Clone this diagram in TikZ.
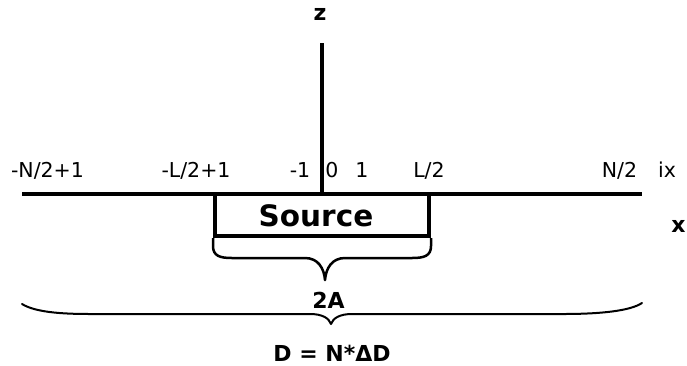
\documentclass[tikz,border=0pt]{standalone}
\usepackage{fontspec}
\setmainfont{DejaVu Sans}
\usetikzlibrary{calc}
\begin{document}
\begin{tikzpicture}[x=1bp,y=-1bp,
  tick/.style={font=\fontsize{20.5bp}{22bp}\selectfont, anchor=base, inner sep=0pt},
  bold/.style={font=\bfseries\fontsize{22bp}{24bp}\selectfont, anchor=base, inner sep=0pt},
  axis/.style={line width=4.5bp},
  brace/.style={line width=2.5bp, line join=round},
  bigbrace/.style={line width=2bp, line join=round, line cap=round}]
\useasboundingbox (0,0) rectangle (687,365);
% axes
\coordinate (xl) at (22,194);
\coordinate (xr) at (642,194);
\coordinate (zb) at (322,194);
\coordinate (zt) at (322,43);
\draw[axis] (xl) -- (xr);
\draw[line width=4bp] (zb) -- (zt);
% source box
\node[draw, line width=4bp, minimum width=214bp, minimum height=42bp, inner sep=0pt] (box) at (322,215) {};
\node[font=\bfseries\fontsize{29.5bp}{31bp}\selectfont, anchor=base, inner sep=0pt] (src) at (316,226) {Source};
% labels
\node[bold] (zlab) at (320,20) {z};
\node[bold] (xlab) at (678.5,232) {x};
\node[tick] (t1) at (47.5,177) {-N/2+1};
\node[tick] (t2) at (196,177) {-L/2+1};
\node[tick] (t3) at (300,177) {-1};
\node[tick] (t4) at (332,177) {0};
\node[tick] (t5) at (362,177) {1};
\node[tick] (t6) at (429,177) {L/2};
\node[tick] (t7) at (619.5,177) {N/2};
\node[tick] (t8) at (667,177) {ix};
% small brace
\coordinate (sbl) at (box.south west);
\coordinate (sbr) at (box.south east);
\coordinate (sbt) at (325,280);
\draw[brace] (sbl) -- ++(0,8) .. controls +(0,10) and (220,258) .. (232,258) -- (305,258)
  .. controls (318,258) and (324,268) .. (sbt)
  .. controls (326,268) and (332,258) .. (345,258) -- (412,258)
  .. controls (424,258) and ($(sbr)+(0,18)$) .. ($(sbr)+(0,8)$) -- (sbr);
\node[bold] (twoA) at (328.5,308) {2A};
% big brace
\coordinate (bbl) at (22,304);
\coordinate (bbr) at (642,303);
\coordinate (bbt) at (331,324);
\draw[bigbrace] (bbl) .. controls (35,312) and (60,314) .. (90,314) -- (310,314)
  .. controls (322,314) and (329,318) .. (bbt)
  .. controls (333,318) and (340,314) .. (352,314) -- (563,314)
  .. controls (600,314) and (630,311) .. (bbr);
\node[bold] (dlab) at (332,361) {D = N*ΔD};
\end{tikzpicture}
\end{document}
